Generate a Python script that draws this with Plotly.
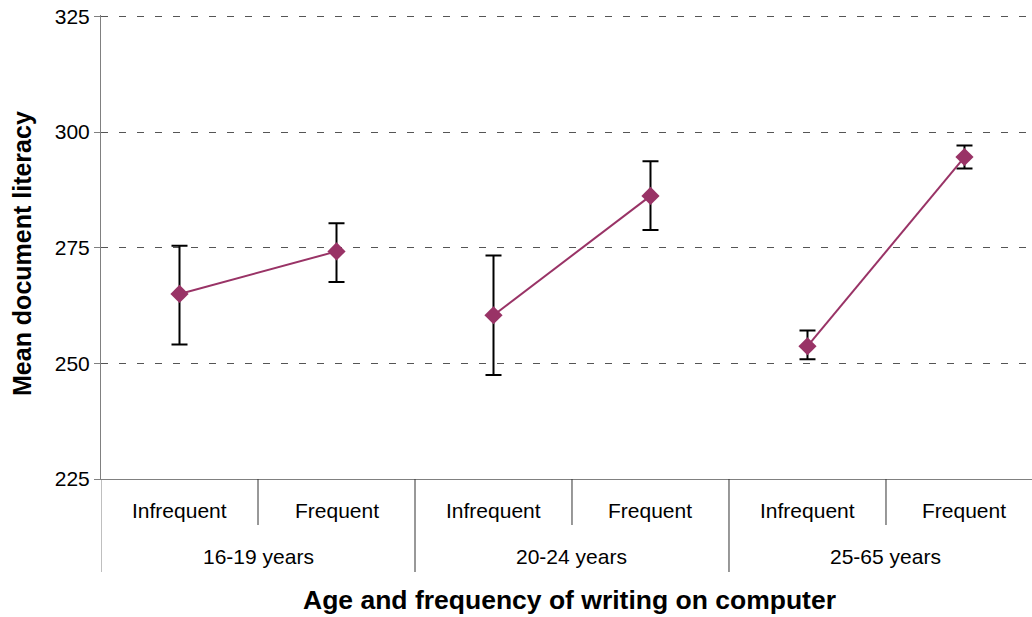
import plotly.graph_objects as go

# Mean document literacy by age group and how often people write on a computer
age_groups = ["16-19 years", "20-24 years", "25-65 years"]
frequency = ["Infrequent", "Frequent"]
mean_score = [265.0, 274.2, 260.4, 286.2, 253.7, 294.6]
upper_ci = [275.4, 280.3, 273.3, 293.7, 257.1, 297.1]
lower_ci = [254.1, 267.6, 247.5, 278.8, 250.9, 292.1]
y_ticks = [225, 250, 275, 300, 325]

FONT = "Liberation Sans, Arial, sans-serif"
PLUM = "#993366"
EDGE = "#808080"

fig = go.Figure()

n_freq = len(frequency)
for g, grp in enumerate(age_groups):
    idx = list(range(g * n_freq, (g + 1) * n_freq))
    ys = [mean_score[i] for i in idx]
    fig.add_trace(go.Scatter(
        x=idx, y=ys, name=grp, mode="lines+markers",
        line=dict(color=PLUM, width=2),
        marker=dict(symbol="diamond", size=14, color=PLUM),
        error_y=dict(type="data", symmetric=False,
                     array=[upper_ci[i] - mean_score[i] for i in idx],
                     arrayminus=[mean_score[i] - lower_ci[i] for i in idx],
                     color="black", thickness=2, width=8),
        showlegend=False,
    ))

# plot area is 464 px tall / 931 px wide; label rows below it in paper units
ph = 464.0
pw = 931.0
row1 = -32 / ph
row2 = -77 / ph
inner_end = -46 / ph
outer_end = -93 / ph

shapes = []
annotations = []
for g, grp in enumerate(age_groups):
    start = g * n_freq
    for k, f in enumerate(frequency):
        annotations.append(dict(x=start + k, y=row1, xref="x", yref="paper",
                                text=f, showarrow=False, yanchor="middle",
                                font=dict(family=FONT, size=21, color="black")))
        if k > 0:
            shapes.append(dict(type="line", xref="x", yref="paper",
                               x0=start + k - 0.5, x1=start + k - 0.5,
                               y0=0, y1=inner_end,
                               line=dict(color="#333333", width=1)))
    annotations.append(dict(x=start + (n_freq - 1) / 2, y=row2, xref="x", yref="paper",
                            text=grp, showarrow=False, yanchor="middle",
                            font=dict(family=FONT, size=21, color="black")))
    shapes.append(dict(type="line", xref="x", yref="paper",
                       x0=start - 0.5, x1=start - 0.5, y0=0, y1=outer_end,
                       line=dict(color="#333333" if g else EDGE, width=1)))

# axis titles
annotations.append(dict(x=(569 - 101) / pw, y=-121 / ph, xref="paper", yref="paper",
                        text="<b>Age and frequency of writing on computer</b>",
                        showarrow=False, xanchor="center", yanchor="middle",
                        font=dict(family=FONT, size=26.5, color="black")))
annotations.append(dict(x=(22 - 101) / pw, y=(479 - 254) / ph, xref="paper", yref="paper",
                        text="<b>Mean document literacy</b>", textangle=-90,
                        showarrow=False, xanchor="center", yanchor="middle",
                        font=dict(family=FONT, size=25, color="black")))

fig.update_layout(
    width=1032, height=617,
    margin=dict(l=101, r=0, t=15, b=138),
    paper_bgcolor="white", plot_bgcolor="white",
    font=dict(family=FONT, size=21, color="black"),
    shapes=shapes, annotations=annotations,
    xaxis=dict(range=[-0.5, 5.43], showticklabels=False, showgrid=False,
               zeroline=False, showline=True, linecolor=EDGE, linewidth=1,
               automargin=False),
    yaxis=dict(range=[225, 325.3], tickvals=y_ticks, ticks="outside", ticklen=6,
               tickcolor=EDGE, showline=True, linecolor=EDGE, linewidth=1,
               gridcolor="#555555", griddash="7px,11px", gridwidth=1,
               zeroline=False, tickfont=dict(family=FONT, size=21),
               automargin=False),
)

# the page body has a default 8px margin; drop it so the figure fills the window
fig.write_html("out.html", config={"displayModeBar": False},
               post_script="document.body.style.margin='0';")
